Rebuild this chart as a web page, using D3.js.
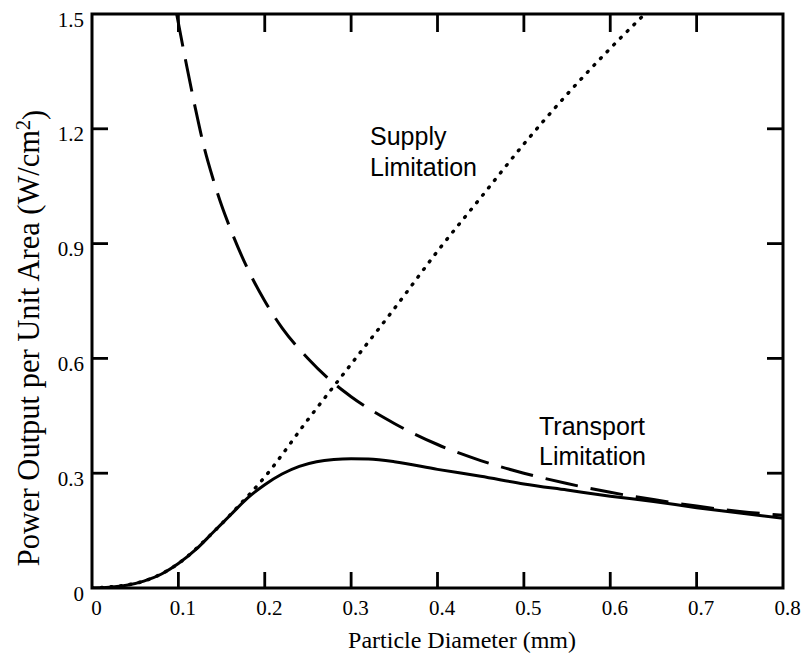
<!DOCTYPE html>
<html>
<head>
<meta charset="utf-8">
<script src="https://cdn.jsdelivr.net/npm/d3@7"></script>
<style>
  html, body { margin: 0; padding: 0; background: #fff; }
  svg { display: block; }
</style>
</head>
<body>
<svg id="chart" width="801" height="660"></svg>
<script>
// Axis ticks
const diameterTicks = [0, 0.1, 0.2, 0.3, 0.4, 0.5, 0.6, 0.7, 0.8];
const powerTicks = [0, 0.3, 0.6, 0.9, 1.2, 1.5];

// Net power output (solid curve)
const netDiameter = [0, 0.02, 0.04, 0.06, 0.08, 0.10, 0.12, 0.14, 0.16, 0.18, 0.20, 0.22, 0.24, 0.26, 0.28, 0.30, 0.32, 0.35, 0.40, 0.45, 0.50, 0.55, 0.60, 0.65, 0.70, 0.75, 0.80];
const netPower    = [0, 0.002, 0.007, 0.018, 0.036, 0.064, 0.10, 0.145, 0.19, 0.235, 0.27, 0.298, 0.318, 0.33, 0.336, 0.338, 0.337, 0.33, 0.31, 0.292, 0.272, 0.256, 0.24, 0.226, 0.21, 0.196, 0.182];

// Supply limitation (dotted curve)
const supplyDiameter = [0, 0.05, 0.10, 0.14, 0.17, 0.20, 0.25, 0.30, 0.35, 0.40, 0.45, 0.50, 0.55, 0.60, 0.64];
const supplyPower    = [0, 0.012, 0.064, 0.145, 0.215, 0.29, 0.44, 0.585, 0.73, 0.88, 1.02, 1.16, 1.29, 1.41, 1.50];

// Transport limitation (dashed curve)
const transportDiameter = [0.098, 0.11, 0.12, 0.13, 0.14, 0.15, 0.16, 0.18, 0.20, 0.22, 0.25, 0.28, 0.30, 0.35, 0.40, 0.45, 0.50, 0.55, 0.60, 0.65, 0.70, 0.75, 0.80];
const transportPower    = [1.50, 1.36, 1.25, 1.15, 1.07, 1.00, 0.94, 0.835, 0.75, 0.68, 0.60, 0.535, 0.50, 0.43, 0.375, 0.333, 0.30, 0.273, 0.25, 0.231, 0.214, 0.20, 0.19];

const svg = d3.select("#chart");
const frame = { left: 92, right: 783, top: 14, bottom: 588 };

const x = d3.scaleLinear().domain([0, 0.8]).range([frame.left, frame.right]);
const y = d3.scaleLinear().domain([0, 1.5]).range([frame.bottom, frame.top]);

svg.append("defs").append("clipPath").attr("id", "plot")
  .append("rect").attr("x", frame.left).attr("y", frame.top)
  .attr("width", frame.right - frame.left).attr("height", frame.bottom - frame.top);

const line = d3.line().x(d => x(d[0])).y(d => y(d[1])).curve(d3.curveMonotoneX);
const zip = (a, b) => a.map((v, i) => [v, b[i]]);

const curves = svg.append("g").attr("clip-path", "url(#plot)")
  .attr("fill", "none").attr("stroke", "#000");

curves.append("path")
  .attr("d", line(zip(supplyDiameter, supplyPower)))
  .attr("stroke-width", 3.4)
  .attr("stroke-linecap", "round")
  .attr("stroke-dasharray", "1,8.5");

curves.append("path")
  .attr("d", line(zip(transportDiameter, transportPower)))
  .attr("stroke-width", 3)
  .attr("stroke-dasharray", "33,13");

curves.append("path")
  .attr("d", line(zip(netDiameter, netPower)))
  .attr("stroke-width", 3);

// Axes: labels on bottom and left, inward ticks on all four sides
const tickLen = 16;
const font = "'Liberation Serif', 'Times New Roman', serif";
const labelFormat = d => d === 0 ? "0" : d3.format(".1f")(d);

function styleAxis(g) {
  g.attr("font-family", font).attr("font-size", 21);
  g.select(".domain").remove();
  g.selectAll(".tick line").remove();
  g.selectAll(".tick text").attr("fill", "#000");
}

svg.append("g").attr("transform", `translate(0,${frame.bottom})`)
  .call(d3.axisBottom(x).tickValues(diameterTicks).tickSize(0).tickPadding(12).tickFormat(labelFormat))
  .call(styleAxis)
  .selectAll(".tick text").attr("dx", "4");
svg.append("g").attr("transform", `translate(${frame.left},0)`)
  .call(d3.axisLeft(y).tickValues(powerTicks).tickSize(0).tickPadding(8).tickFormat(labelFormat))
  .call(styleAxis)
  .selectAll(".tick text").attr("dy", "0.58em");

const ticks = svg.append("g").attr("stroke", "#000").attr("stroke-width", 2.8);
const innerX = diameterTicks.slice(1, -1);
const innerY = powerTicks.slice(1, -1);
ticks.selectAll("line.xb").data(innerX).join("line").attr("class", "xb")
  .attr("x1", d => x(d)).attr("x2", d => x(d))
  .attr("y1", frame.bottom).attr("y2", frame.bottom - tickLen);
ticks.selectAll("line.xt").data(innerX).join("line").attr("class", "xt")
  .attr("x1", d => x(d)).attr("x2", d => x(d))
  .attr("y1", frame.top).attr("y2", frame.top + tickLen + 2);
ticks.selectAll("line.yl").data(innerY).join("line").attr("class", "yl")
  .attr("y1", d => y(d)).attr("y2", d => y(d))
  .attr("x1", frame.left).attr("x2", frame.left + tickLen);
ticks.selectAll("line.yr").data(innerY).join("line").attr("class", "yr")
  .attr("y1", d => y(d)).attr("y2", d => y(d))
  .attr("x1", frame.right).attr("x2", frame.right - tickLen);

// Plot frame
svg.append("rect")
  .attr("x", frame.left).attr("y", frame.top)
  .attr("width", frame.right - frame.left).attr("height", frame.bottom - frame.top)
  .attr("fill", "none").attr("stroke", "#000").attr("stroke-width", 3);

// Axis titles
svg.append("text")
  .attr("x", 462).attr("y", 648)
  .attr("text-anchor", "middle")
  .attr("font-family", font).attr("font-size", 24)
  .text("Particle Diameter (mm)");

const yTitle = svg.append("text")
  .attr("transform", "translate(39,338) rotate(-90)")
  .attr("text-anchor", "middle")
  .attr("font-family", font).attr("font-size", 30.5);
yTitle.append("tspan").text("Power Output per Unit Area (W/cm");
yTitle.append("tspan").attr("dy", "-0.45em").attr("font-size", 20).text("2");
yTitle.append("tspan").attr("dy", "0.45em").text(")");

// Curve annotations
const sans = "'Liberation Sans', Arial, Helvetica, sans-serif";
const notes = [
  { x: 370, y: 145, t: "Supply" },
  { x: 370, y: 176, t: "Limitation" },
  { x: 539, y: 435, t: "Transport" },
  { x: 539, y: 465, t: "Limitation" }
];
svg.append("g").selectAll("text").data(notes).join("text")
  .attr("x", d => d.x).attr("y", d => d.y)
  .attr("font-family", sans).attr("font-size", 25)
  .text(d => d.t);
</script>
</body>
</html>
